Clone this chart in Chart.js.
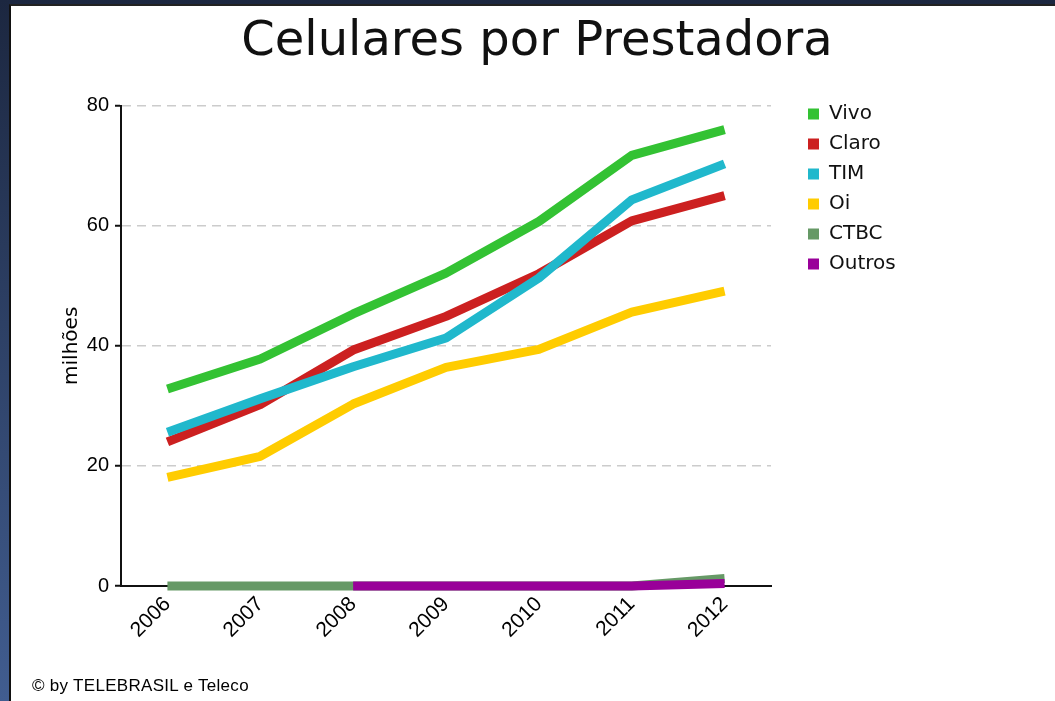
<!DOCTYPE html>
<html>
<head>
<meta charset="utf-8">
<script src="https://cdn.jsdelivr.net/npm/chart.js@4.4.1/dist/chart.umd.min.js"></script>
<style>
  html, body { margin: 0; padding: 0; width: 1055px; height: 701px; overflow: hidden; }
  body { background: linear-gradient(#1c2740, #415d90); }
  #panel { position: absolute; left: 9px; top: 4px; right: 0; bottom: 0; background: #fff;
           border-left: 2px solid #111; border-top: 2px solid #222; }
  #wrap { position: absolute; left: 0; top: 0; width: 1044px; height: 695px; }
  #credit { position: absolute; left: 21px; top: 670px; font: 17px "Liberation Sans", sans-serif;
            color: #000; letter-spacing: 0.3px; }
</style>
</head>
<body>
<div id="panel">
  <div id="wrap"><canvas id="chart_celulares"></canvas></div>
  <div id="credit">© by TELEBRASIL e Teleco</div>
</div>
<script>
const years = ['2006', '2007', '2008', '2009', '2010', '2011', '2012'];

const vivo   = [32.8, 37.8, 45.3, 52.1, 60.7, 71.7, 76.0];
const claro  = [24.0, 30.2, 39.3, 44.9, 52.0, 60.8, 65.0];
const tim    = [25.6, 31.2, 36.5, 41.3, 51.3, 64.3, 70.3];
const oi     = [18.1, 21.6, 30.3, 36.4, 39.4, 45.6, 49.1];
const ctbc   = [0, 0, 0, 0, 0, 0, 1.25];
const outros = [null, null, 0, 0, 0, 0, 0.4];

const seriesNames  = ['Vivo', 'Claro', 'TIM', 'Oi', 'CTBC', 'Outros'];
const seriesColors = ['#33c233', '#cc2020', '#20b8cc', '#ffcc00', '#669966', '#990099'];
const seriesValues = [vivo, claro, tim, oi, ctbc, outros];

const yTicks = [0, 20, 40, 60, 80];

// later series are painted on top, like the original
const datasets = seriesNames.map((name, i) => ({
  label: name,
  data: seriesValues[i],
  borderColor: seriesColors[i],
  backgroundColor: seriesColors[i],
  borderWidth: 9,
  borderJoinStyle: 'round',
  pointRadius: 0,
  pointHoverRadius: 0,
  tension: 0,
  clip: false,
  order: seriesNames.length - i
}));

// put the legend in the right-hand gutter
const legendPlacer = {
  id: 'legendPlacer',
  afterLayout(chart, args, opts) {
    const lg = chart.legend;
    if (!lg) return;
    const w = lg.width, h = lg.height;
    lg.left = opts.x;
    lg.top = opts.y;
    lg.right = opts.x + w;
    lg.bottom = opts.y + h;
  }
};

let options = {
  responsive: true,
  maintainAspectRatio: false,
  animation: false,
  layout: { padding: { left: 45, right: 37, top: 0, bottom: 0 } },
  plugins: {
    title: {
      display: true,
      text: 'Celulares por Prestadora',
      color: '#111',
      font: { family: "'DejaVu Sans', sans-serif", size: 48, weight: 'normal' },
      padding: { top: 8, bottom: 34 }
    },
    legend: {
      position: 'chartArea',
      align: 'start',
      labels: {
        boxWidth: 11,
        boxHeight: 11,
        padding: 10,
        color: '#111',
        font: { family: "'DejaVu Sans', sans-serif", size: 20 },
        sort: (a, b) => a.datasetIndex - b.datasetIndex,
        generateLabels: (chart) =>
          Chart.defaults.plugins.legend.labels.generateLabels(chart)
            .map(item => ({ ...item, lineWidth: 0 }))
      }
    },
    legendPlacer: { x: 787, y: 88 },
    tooltip: { enabled: false }
  },
  scales: {
    x: {
      type: 'category',
      offset: true,
      grid: { display: false, drawTicks: false },
      border: { display: true, color: '#111', width: 2 },
      ticks: {
        color: '#000',
        font: { family: "'Liberation Sans', sans-serif", size: 21 },
        minRotation: 45,
        maxRotation: 45,
        padding: 6
      },
      afterFit: (s) => { s.height = 115; }
    },
    y: {
      min: 0,
      max: 80,
      afterBuildTicks: (s) => { s.ticks = yTicks.map(v => ({ value: v })); },
      grid: {
        color: '#cccccc',
        lineWidth: 1.5,
        tickColor: '#111',
        tickLength: 6,
        tickWidth: 2,
        tickBorderDash: []
      },
      border: { display: true, color: '#111', width: 2, dash: [9, 6] },
      ticks: {
        color: '#000',
        padding: 6,
        font: { family: "'Liberation Sans', sans-serif", size: 20 }
      },
      title: {
        display: true,
        text: 'milhões',
        color: '#000',
        font: { family: "'DejaVu Sans', sans-serif", size: 20 },
        padding: { top: 4, bottom: 4 }
      },
      afterFit: (s) => { s.width = 65; }
    },
    gutter: {
      type: 'linear',
      position: 'right',
      display: true,
      grid: { display: false, drawTicks: false },
      border: { display: false },
      ticks: { display: false },
      afterFit: (s) => { s.width = 247; }
    }
  }
};

new Chart('chart_celulares', {
  type: 'line',
  plugins: [legendPlacer],
  data: { labels: years, datasets },
  options
});
</script>
</body>
</html>
